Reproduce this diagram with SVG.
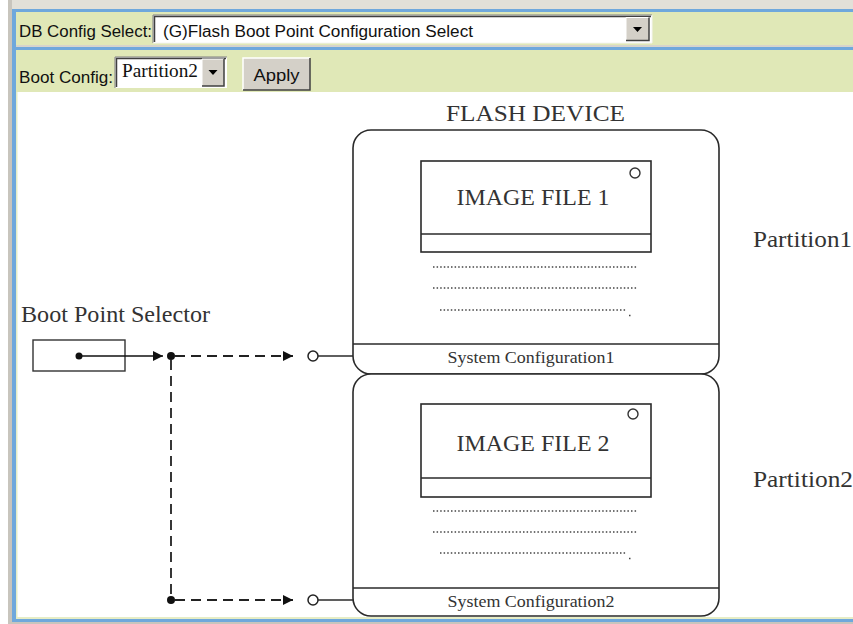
<svg xmlns="http://www.w3.org/2000/svg" width="853" height="624" viewBox="0 0 853 624">
<defs>
<style>
.ui{font-family:"Liberation Sans",Arial,sans-serif;font-size:16px;fill:#111}
.serif{font-family:"Liberation Serif","Times New Roman",serif;fill:#333}
.ln{stroke:#2a2a2a;stroke-width:1.6;fill:none}
.dash{stroke:#222;stroke-width:1.8;fill:none;stroke-dasharray:10 6}
.dots{stroke:#444;stroke-width:1.7;fill:none;stroke-dasharray:1.5 2.1}
.box{fill:#fff;stroke:#2a2a2a;stroke-width:1.6}
.btn{fill:#d4d0c8}
</style>
<marker id="arr" viewBox="0 0 10 10" refX="10" refY="5" markerWidth="10" markerHeight="10" markerUnits="userSpaceOnUse" orient="auto">
<path d="M0,0 L10,5 L0,10 z" fill="#111"/>
</marker>
</defs>
<!-- frame -->
<rect x="0" y="0" width="853" height="624" fill="#fff"/>
<rect x="8" y="0" width="845" height="9" fill="#e2e0d8"/>
<rect x="8" y="0" width="4" height="624" fill="#c8c5bd"/>
<rect x="8" y="622" width="845" height="2" fill="#c8c5bd"/>
<rect x="12" y="9" width="841" height="3" fill="#6fa8dc"/>
<rect x="12" y="9" width="4" height="613" fill="#6fa8dc"/>
<rect x="12" y="619" width="841" height="3" fill="#6fa8dc"/>
<rect x="16" y="12" width="837" height="35" fill="#e0e8b7"/>
<rect x="16" y="45" width="837" height="2" fill="#d6d4cc"/>
<rect x="12" y="47" width="841" height="3" fill="#6fa8dc"/>
<rect x="16" y="50" width="837" height="42" fill="#e0e8b7"/>
<rect x="16" y="92" width="1.5" height="527" fill="#e6edc6"/>
<rect x="16" y="617" width="837" height="2" fill="#e6edc6"/>

<!-- toolbar row 1 -->
<g id="db-config">
<text class="ui" x="19" y="37" textLength="133" lengthAdjust="spacingAndGlyphs">DB Config Select:</text>
<rect x="153" y="15" width="499" height="28" fill="#fff"/>
<path d="M153,43 V15 H652" fill="none" stroke="#808080" stroke-width="1"/>
<path d="M154.5,42 V16.5 H651" fill="none" stroke="#404040" stroke-width="1.5"/>
<path d="M652,15 V43 H153" fill="none" stroke="#f4f4f0" stroke-width="1"/>
<text class="ui" x="163" y="37" textLength="310" lengthAdjust="spacingAndGlyphs">(G)Flash Boot Point Configuration Select</text>
<rect class="btn" x="626" y="17.5" width="23" height="23"/>
<path d="M626,40.5 V17.5 H649" fill="none" stroke="#fff" stroke-width="1"/>
<path d="M649,17.5 V40.5 H626" fill="none" stroke="#404040" stroke-width="1.5"/>
<path d="M633,27 H642 L637.5,32 z" fill="#000"/>
</g>

<!-- toolbar row 2 -->
<g id="boot-config">
<text class="ui" x="19" y="83" textLength="94" lengthAdjust="spacingAndGlyphs">Boot Config:</text>
<rect x="115" y="57" width="112" height="31" fill="#fff"/>
<path d="M115,88 V57 H227" fill="none" stroke="#808080" stroke-width="1"/>
<path d="M116.5,87 V58.5 H226" fill="none" stroke="#404040" stroke-width="1.5"/>
<text class="serif" x="122" y="77" font-size="19" textLength="76" lengthAdjust="spacingAndGlyphs" style="fill:#111">Partition2</text>
<rect class="btn" x="202" y="59" width="22" height="27"/>
<path d="M202,86 V59 H224" fill="none" stroke="#fff" stroke-width="1"/>
<path d="M224,59 V86 H202" fill="none" stroke="#404040" stroke-width="1.5"/>
<path d="M208.5,70 H217.5 L213,75 z" fill="#000"/>
</g>
<g id="apply">
<rect class="btn" x="243" y="58" width="67" height="32"/>
<path d="M243,90 V58 H310" fill="none" stroke="#fff" stroke-width="1.5"/>
<path d="M310,58 V90 H243" fill="none" stroke="#404040" stroke-width="1.5"/>
<text class="ui" x="276.5" y="81" text-anchor="middle" textLength="46" lengthAdjust="spacingAndGlyphs">Apply</text>
</g>

<!-- diagram -->
<g id="flash-title">
<text class="serif" x="535.5" y="121" font-size="24" text-anchor="middle" textLength="179" lengthAdjust="spacingAndGlyphs">FLASH DEVICE</text>
</g>

<g id="partition1">
<rect class="box" x="353" y="130" width="366" height="244" rx="18" ry="18"/>
<line class="ln" x1="353" y1="344" x2="719" y2="344"/>
<text class="serif" x="531" y="363" font-size="17" text-anchor="middle" textLength="167" lengthAdjust="spacingAndGlyphs">System Configuration1</text>
<line class="dots" x1="433" y1="267" x2="638" y2="267"/>
<line class="dots" x1="433" y1="288" x2="638" y2="288"/>
<line class="dots" x1="440" y1="310" x2="627" y2="310"/>
<line class="dots" x1="629" y1="315.5" x2="632" y2="315.5"/>
<text class="serif" x="753" y="247" font-size="24" textLength="99" lengthAdjust="spacingAndGlyphs">Partition1</text>
</g>
<g id="image1">
<rect class="box" x="421" y="161" width="230" height="91"/>
<line class="ln" x1="421" y1="234" x2="651" y2="234"/>
<circle cx="635" cy="173" r="5" fill="#fff" stroke="#333" stroke-width="1.4"/>
<text class="serif" x="533" y="205" font-size="23" text-anchor="middle" textLength="153" lengthAdjust="spacingAndGlyphs">IMAGE FILE 1</text>
</g>

<g id="partition2">
<rect class="box" x="353" y="374" width="366" height="242" rx="18" ry="18"/>
<line class="ln" x1="353" y1="588" x2="719" y2="588"/>
<text class="serif" x="531" y="607" font-size="17" text-anchor="middle" textLength="167" lengthAdjust="spacingAndGlyphs">System Configuration2</text>
<line class="dots" x1="433" y1="511" x2="638" y2="511"/>
<line class="dots" x1="433" y1="532" x2="638" y2="532"/>
<line class="dots" x1="440" y1="553" x2="627" y2="553"/>
<line class="dots" x1="629" y1="558.5" x2="632" y2="558.5"/>
<text class="serif" x="753" y="487" font-size="24" textLength="100" lengthAdjust="spacingAndGlyphs">Partition2</text>
</g>
<g id="image2">
<rect class="box" x="421" y="404" width="230" height="93"/>
<line class="ln" x1="421" y1="478" x2="651" y2="478"/>
<circle cx="633" cy="414" r="5" fill="#fff" stroke="#333" stroke-width="1.4"/>
<text class="serif" x="533" y="451" font-size="23" text-anchor="middle" textLength="153" lengthAdjust="spacingAndGlyphs">IMAGE FILE 2</text>
</g>

<g id="selector">
<text class="serif" x="21" y="322" font-size="24" textLength="189" lengthAdjust="spacingAndGlyphs">Boot Point Selector</text>
<rect x="33" y="340" width="92" height="31" fill="#fff" stroke="#333" stroke-width="1.4"/>
<circle cx="79" cy="356" r="3.5" fill="#111"/>
</g>

<g id="connectors">
<line class="ln" x1="79" y1="356" x2="163" y2="356" marker-end="url(#arr)" style="stroke:#111"/>
<circle cx="171" cy="356" r="4" fill="#111"/>
<line class="dash" x1="175" y1="356" x2="293" y2="356" marker-end="url(#arr)"/>
<line class="dash" x1="171" y1="360" x2="171" y2="600"/>
<circle cx="171" cy="600" r="4" fill="#111"/>
<line class="dash" x1="175" y1="600" x2="293" y2="600" marker-end="url(#arr)"/>
<circle cx="313" cy="356" r="5" fill="#fff" stroke="#222" stroke-width="1.5"/>
<line class="ln" x1="318" y1="356" x2="353" y2="356"/>
<circle cx="313" cy="600" r="5" fill="#fff" stroke="#222" stroke-width="1.5"/>
<line class="ln" x1="318" y1="600" x2="353" y2="600"/>
</g>
</svg>
